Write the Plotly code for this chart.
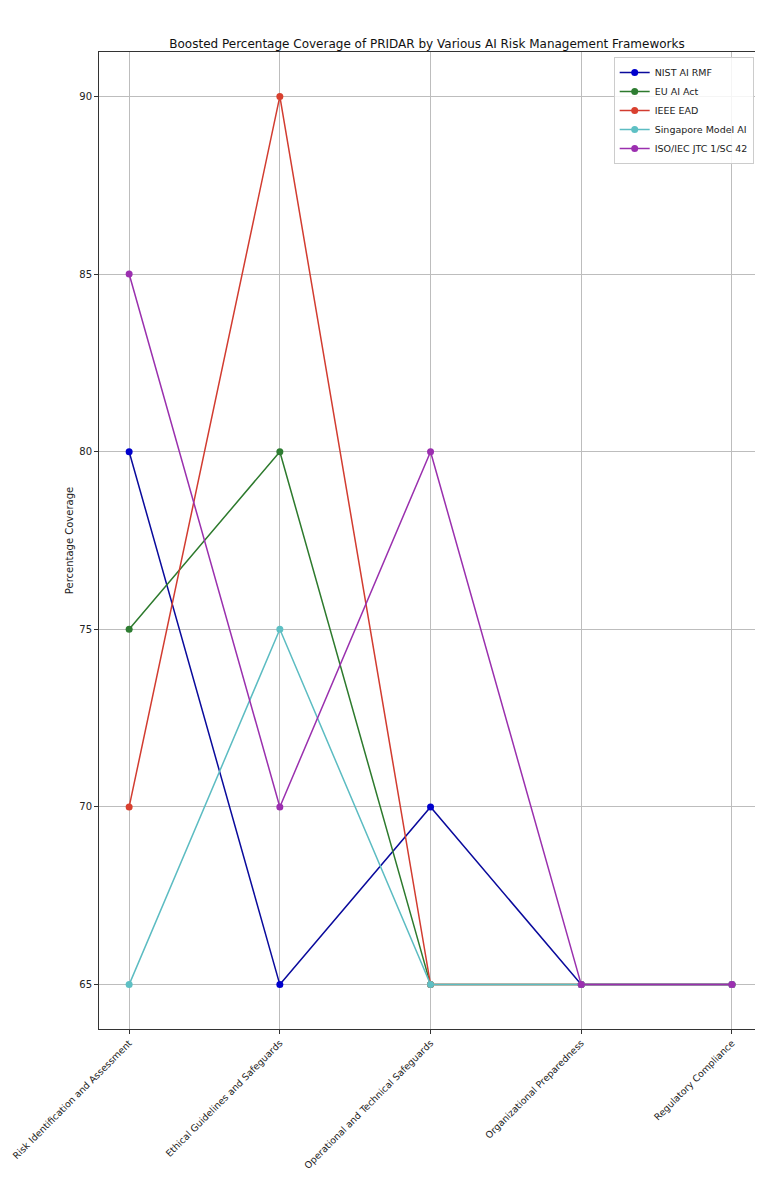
import plotly.graph_objects as go

categories = [
    "Risk Identification and Assessment",
    "Ethical Guidelines and Safeguards",
    "Operational and Technical Safeguards",
    "Organizational Preparedness",
    "Regulatory Compliance",
]
series_names = ["NIST AI RMF", "EU AI Act", "IEEE EAD", "Singapore Model AI", "ISO/IEC JTC 1/SC 42"]
nist = [80, 65, 70, 65, 65]
eu = [75, 80, 65, 65, 65]
ieee = [70, 90, 65, 65, 65]
singapore = [65, 75, 65, 65, 65]
iso = [85, 70, 80, 65, 65]
y_ticks = [65, 70, 75, 80, 85, 90]

values = [nist, eu, ieee, singapore, iso]
line_colors = ["#0a0a9c", "#2d7a2d", "#d23c30", "#5cbcc2", "#9a30ae"]
marker_colors = ["#0000cd", "#2e7d32", "#d9402f", "#5ec0c4", "#9c2fb0"]

fig = go.Figure()
for name, vals, lc, mc in zip(series_names, values, line_colors, marker_colors):
    fig.add_trace(go.Scatter(
        x=list(range(len(categories))), y=vals, name=name,
        mode="lines+markers",
        line=dict(color=lc, width=1.5),
        marker=dict(color=mc, size=7),
    ))

axis_common = dict(
    showline=True, linecolor="#333333", linewidth=1, mirror=True,
    showgrid=True, gridcolor="#bdbdbd", gridwidth=1,
    ticks="outside", ticklen=4, tickcolor="#333333",
    zeroline=False, automargin=False,
    ticklabeloverflow="allow",
)

fig.update_layout(
    width=747, height=1184,
    margin=dict(l=91, r=0, t=44, b=163),
    paper_bgcolor="white", plot_bgcolor="white",
    font=dict(family="DejaVu Sans", color="#222222"),
    title=dict(
        text="Boosted Percentage Coverage of PRIDAR by Various AI Risk Management Frameworks",
        x=0.5, xref="paper", xanchor="center",
        y=1, yref="paper", yanchor="bottom", pad=dict(b=4),
        font=dict(size=12, family="DejaVu Sans", color="#111111"),
    ),
    xaxis=dict(
        range=[-0.2, 4.153],
        tickmode="array", tickvals=list(range(len(categories))), ticktext=categories,
        tickangle=-45,
        tickfont=dict(family="DejaVu Sans", size=9.4, color="#222222"),
        **axis_common,
    ),
    yaxis=dict(
        range=[63.75, 91.25],
        tickmode="array", tickvals=y_ticks, ticktext=[str(t) for t in y_ticks],
        tickfont=dict(family="DejaVu Sans", size=10, color="#222222"),
        title=dict(text="Percentage Coverage", font=dict(size=10, family="DejaVu Sans"), standoff=3),
        **axis_common,
    ),
    legend=dict(
        x=0.998, y=0.995, xanchor="right", yanchor="top",
        bgcolor="rgba(255,255,255,0.85)", bordercolor="#cccccc", borderwidth=1,
        font=dict(size=9.5, family="DejaVu Sans"),
        tracegroupgap=0, itemwidth=30,
    ),
    showlegend=True,
)

fig.write_html("out.html")
